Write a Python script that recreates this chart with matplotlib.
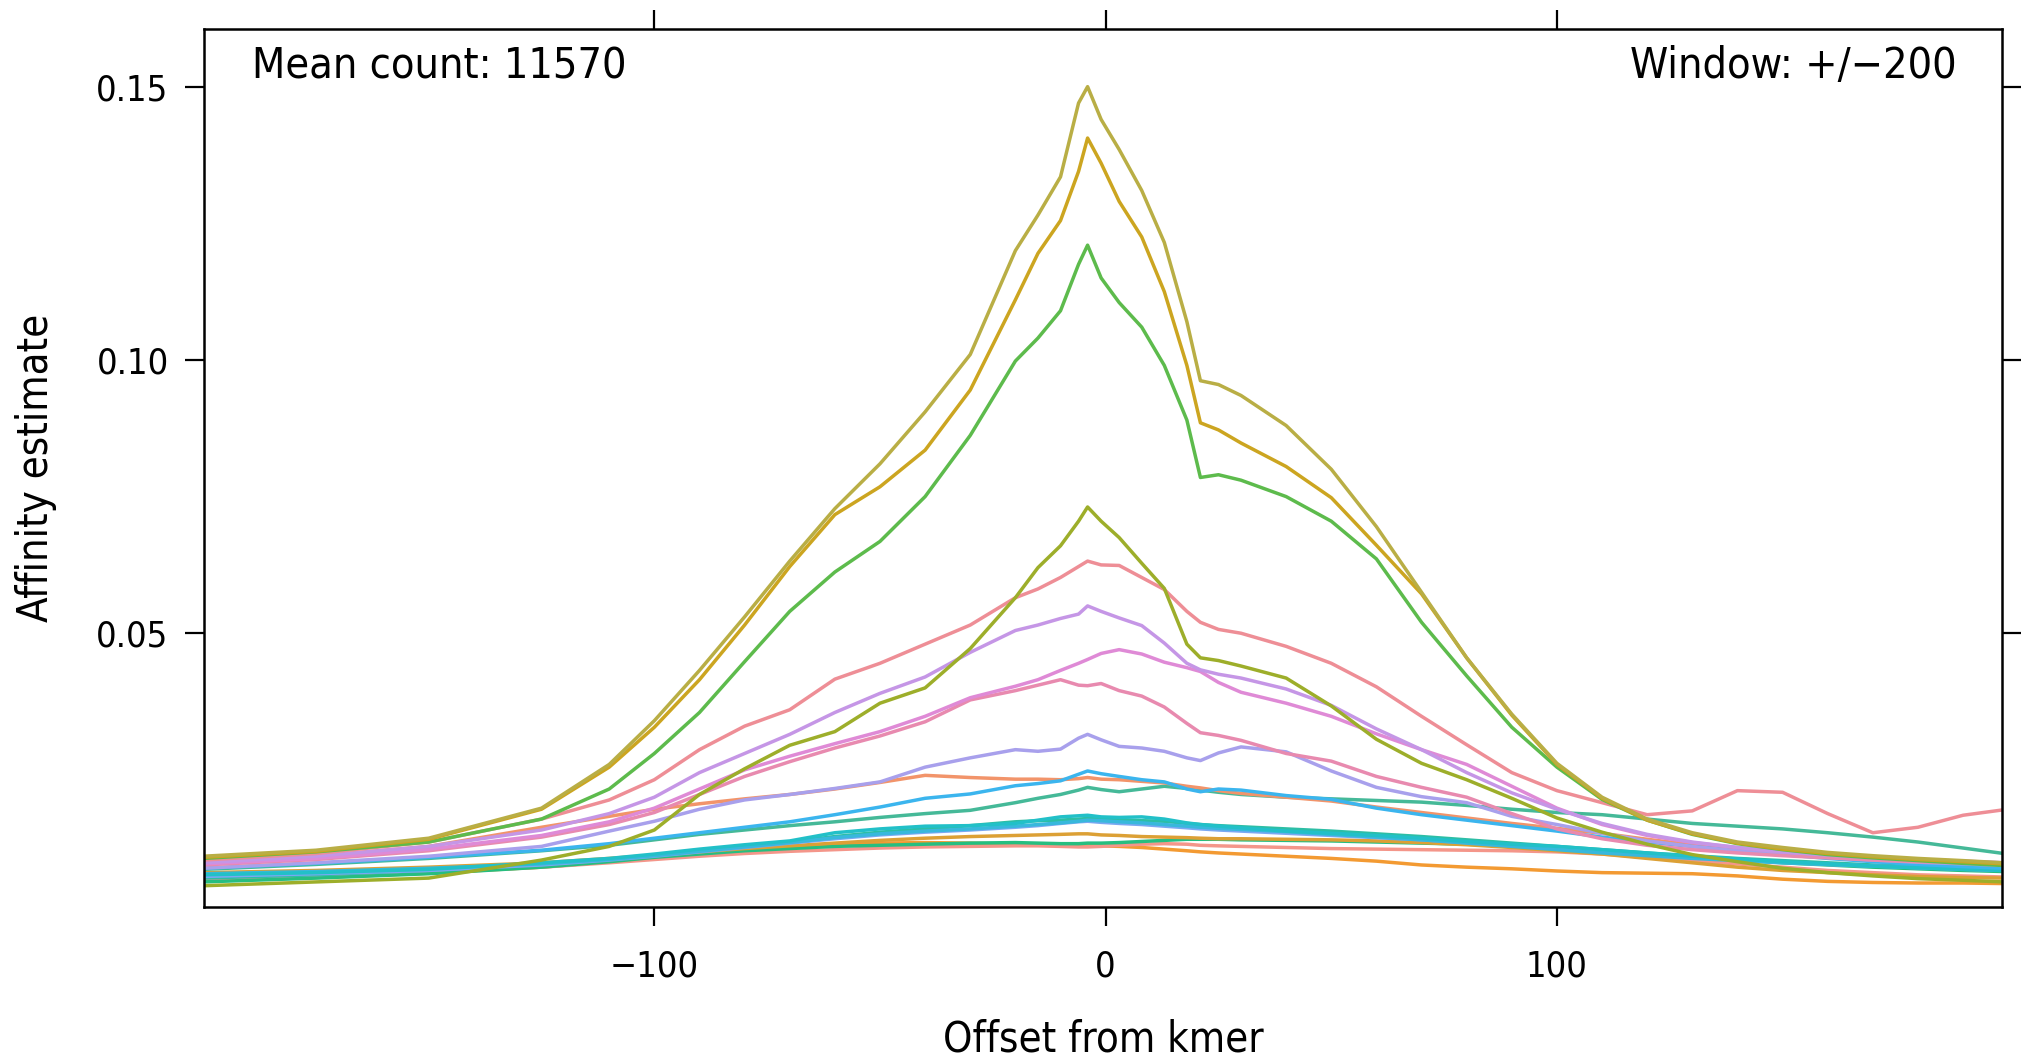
import matplotlib
matplotlib.use('Agg')

import matplotlib.pyplot as plt
from matplotlib import font_manager as fm

# offset from kmer (common grid, denser near the centre peak)
offset = [-200, -175, -150, -125, -110, -100, -90, -80, -70, -60,
          -50, -40, -30, -20, -15, -10, -6, -4, -1, 3,
          8, 13, 18, 21, 25, 30, 40, 50, 60, 70,
          80, 90, 100, 110, 120, 130, 140, 150, 160, 170,
          180, 190, 199]

# affinity estimates, one list per curve
khaki = [0.0092, 0.0103, 0.0125, 0.0180, 0.0260, 0.0340, 0.0432, 0.0530, 0.0632, 0.0728,
         0.0810, 0.0905, 0.1010, 0.1200, 0.1265, 0.1335, 0.1470, 0.1500, 0.1440, 0.1385,
         0.1310, 0.1215, 0.1070, 0.0962, 0.0955, 0.0935, 0.0880, 0.0800, 0.0695, 0.0575,
         0.0455, 0.0352, 0.0262, 0.0200, 0.0160, 0.0135, 0.0118, 0.0108, 0.0099, 0.0093,
         0.0088, 0.0084, 0.0080]
gold = [0.0090, 0.0101, 0.0123, 0.0178, 0.0255, 0.0328, 0.0415, 0.0515, 0.0622, 0.0717,
        0.0768, 0.0835, 0.0945, 0.1110, 0.1195, 0.1255, 0.1345, 0.1406, 0.1360, 0.1290,
        0.1225, 0.1125, 0.0990, 0.0885, 0.0872, 0.0848, 0.0805, 0.0748, 0.0661, 0.0572,
        0.0455, 0.0350, 0.0260, 0.0198, 0.0158, 0.0133, 0.0116, 0.0105, 0.0097, 0.0091,
        0.0086, 0.0082, 0.0078]
green = [0.0088, 0.0100, 0.0118, 0.0160, 0.0215, 0.0280, 0.0355, 0.0448, 0.0540, 0.0612,
         0.0668, 0.0750, 0.0862, 0.0998, 0.1040, 0.1090, 0.1175, 0.1210, 0.1150, 0.1105,
         0.1060, 0.0990, 0.0890, 0.0785, 0.0790, 0.0780, 0.0750, 0.0705, 0.0636, 0.0520,
         0.0422, 0.0328, 0.0255, 0.0196, 0.0158, 0.0132, 0.0115, 0.0104, 0.0095, 0.0089,
         0.0084, 0.0079, 0.0075]
olive = [0.0038, 0.0045, 0.0052, 0.0085, 0.0110, 0.0140, 0.0205, 0.0252, 0.0295, 0.0320,
         0.0372, 0.0400, 0.0472, 0.0565, 0.0620, 0.0660, 0.0705, 0.0731, 0.0705, 0.0675,
         0.0628, 0.0582, 0.0480, 0.0455, 0.0450, 0.0440, 0.0418, 0.0367, 0.0306, 0.0262,
         0.0232, 0.0198, 0.0162, 0.0136, 0.0114, 0.0095, 0.0082, 0.0070, 0.0062, 0.0056,
         0.0051, 0.0048, 0.0045]
salmon = [0.0085, 0.0097, 0.0118, 0.0160, 0.0195, 0.0232, 0.0287, 0.0330, 0.0360, 0.0416,
          0.0445, 0.0480, 0.0515, 0.0565, 0.0581, 0.0602, 0.0622, 0.0632, 0.0625, 0.0624,
          0.0602, 0.0580, 0.0540, 0.0520, 0.0507, 0.0500, 0.0476, 0.0445, 0.0402, 0.0348,
          0.0296, 0.0245, 0.0212, 0.0190, 0.0168, 0.0175, 0.0212, 0.0209, 0.0170, 0.0135,
          0.0145, 0.0167, 0.0177]
purple = [0.0080, 0.0092, 0.0110, 0.0140, 0.0170, 0.0200, 0.0245, 0.0280, 0.0315, 0.0355,
          0.0390, 0.0420, 0.0465, 0.0505, 0.0515, 0.0527, 0.0535, 0.0550, 0.0540, 0.0528,
          0.0514, 0.0482, 0.0445, 0.0433, 0.0425, 0.0418, 0.0398, 0.0368, 0.0325, 0.0287,
          0.0245, 0.0208, 0.0178, 0.0152, 0.0132, 0.0118, 0.0108, 0.0100, 0.0094, 0.0089,
          0.0085, 0.0082, 0.0080]
orchid = [0.0078, 0.0088, 0.0105, 0.0130, 0.0155, 0.0180, 0.0215, 0.0250, 0.0275, 0.0298,
          0.0320, 0.0348, 0.0382, 0.0403, 0.0415, 0.0432, 0.0445, 0.0452, 0.0463, 0.0470,
          0.0462, 0.0447, 0.0437, 0.0430, 0.0410, 0.0392, 0.0372, 0.0348, 0.0316, 0.0287,
          0.0260, 0.0220, 0.0180, 0.0150, 0.0130, 0.0117, 0.0108, 0.0100, 0.0095, 0.0090,
          0.0086, 0.0083, 0.0080]
rose = [0.0076, 0.0086, 0.0102, 0.0127, 0.0150, 0.0172, 0.0205, 0.0238, 0.0265, 0.0290,
        0.0312, 0.0338, 0.0378, 0.0395, 0.0405, 0.0415, 0.0405, 0.0404, 0.0408, 0.0395,
        0.0385, 0.0365, 0.0335, 0.0318, 0.0313, 0.0304, 0.0280, 0.0266, 0.0238, 0.0218,
        0.0200, 0.0170, 0.0142, 0.0124, 0.0112, 0.0104, 0.0098, 0.0093, 0.0089, 0.0085,
        0.0082, 0.0080, 0.0078]
periwinkle = [0.0070, 0.0080, 0.0092, 0.0110, 0.0138, 0.0156, 0.0178, 0.0195, 0.0205, 0.0216,
              0.0228, 0.0255, 0.0272, 0.0287, 0.0284, 0.0288, 0.0308, 0.0315, 0.0305, 0.0293,
              0.0290, 0.0284, 0.0272, 0.0267, 0.0281, 0.0292, 0.0283, 0.0248, 0.0218, 0.0201,
              0.0190, 0.0165, 0.0150, 0.0134, 0.0120, 0.0110, 0.0102, 0.0095, 0.0090, 0.0085,
              0.0081, 0.0078, 0.0075]
coral = [0.0082, 0.0092, 0.0110, 0.0145, 0.0165, 0.0178, 0.0188, 0.0197, 0.0205, 0.0215,
         0.0227, 0.0240, 0.0236, 0.0233, 0.0233, 0.0232, 0.0234, 0.0236, 0.0233, 0.0232,
         0.0229, 0.0226, 0.0220, 0.0217, 0.0212, 0.0207, 0.0200, 0.0193, 0.0182, 0.0172,
         0.0162, 0.0152, 0.0143, 0.0134, 0.0123, 0.0113, 0.0104, 0.0097, 0.0091, 0.0086,
         0.0082, 0.0079, 0.0076]
blue = [0.0070, 0.0079, 0.0090, 0.0103, 0.0115, 0.0125, 0.0135, 0.0145, 0.0155, 0.0168,
        0.0182, 0.0198, 0.0206, 0.0221, 0.0225, 0.0230, 0.0242, 0.0248, 0.0243, 0.0238,
        0.0232, 0.0228, 0.0215, 0.0210, 0.0215, 0.0213, 0.0203, 0.0196, 0.0180, 0.0168,
        0.0158, 0.0148, 0.0138, 0.0127, 0.0118, 0.0110, 0.0102, 0.0095, 0.0088, 0.0082,
        0.0077, 0.0073, 0.0070]
teal = [0.0068, 0.0077, 0.0088, 0.0102, 0.0112, 0.0122, 0.0132, 0.0140, 0.0148, 0.0155,
        0.0163, 0.0170, 0.0176, 0.0190, 0.0198, 0.0205, 0.0213, 0.0218, 0.0214, 0.0210,
        0.0215, 0.0220, 0.0216, 0.0213, 0.0209, 0.0205, 0.0200, 0.0197, 0.0194, 0.0191,
        0.0185, 0.0178, 0.0172, 0.0168, 0.0160, 0.0152, 0.0147, 0.0142, 0.0135, 0.0127,
        0.0118, 0.0107, 0.0097]
cyan = [0.0058, 0.0062, 0.0068, 0.0080, 0.0088, 0.0096, 0.0105, 0.0113, 0.0120, 0.0135,
        0.0142, 0.0147, 0.0148, 0.0152, 0.0158, 0.0164, 0.0166, 0.0167, 0.0164, 0.0163,
        0.0164, 0.0160, 0.0153, 0.0150, 0.0147, 0.0144, 0.0138, 0.0134, 0.0130, 0.0125,
        0.0119, 0.0114, 0.0110, 0.0104, 0.0098, 0.0092, 0.0087, 0.0082, 0.0078, 0.0074,
        0.0071, 0.0068, 0.0066]
cornflower = [0.0055, 0.0060, 0.0066, 0.0076, 0.0085, 0.0092, 0.0100, 0.0108, 0.0116, 0.0124,
              0.0131, 0.0136, 0.0140, 0.0145, 0.0148, 0.0152, 0.0155, 0.0156, 0.0154, 0.0152,
              0.0150, 0.0147, 0.0144, 0.0142, 0.0140, 0.0138, 0.0134, 0.0130, 0.0126, 0.0122,
              0.0117, 0.0112, 0.0106, 0.0100, 0.0095, 0.0090, 0.0085, 0.0081, 0.0077, 0.0074,
              0.0071, 0.0068, 0.0066]
turquoise = [0.0052, 0.0058, 0.0066, 0.0078, 0.0086, 0.0094, 0.0102, 0.0110, 0.0118, 0.0128,
             0.0136, 0.0142, 0.0148, 0.0155, 0.0157, 0.0158, 0.0160, 0.0161, 0.0160, 0.0158,
             0.0157, 0.0156, 0.0152, 0.0150, 0.0148, 0.0146, 0.0142, 0.0138, 0.0133, 0.0128,
             0.0122, 0.0116, 0.0110, 0.0104, 0.0098, 0.0093, 0.0088, 0.0084, 0.0080, 0.0076,
             0.0073, 0.0070, 0.0068]
sky = [0.0060, 0.0064, 0.0070, 0.0078, 0.0086, 0.0093, 0.0101, 0.0109, 0.0117, 0.0126,
       0.0133, 0.0138, 0.0142, 0.0147, 0.0150, 0.0153, 0.0156, 0.0158, 0.0157, 0.0155,
       0.0153, 0.0150, 0.0147, 0.0145, 0.0143, 0.0141, 0.0137, 0.0132, 0.0127, 0.0122,
       0.0116, 0.0110, 0.0104, 0.0098, 0.0093, 0.0088, 0.0084, 0.0080, 0.0077, 0.0074,
       0.0071, 0.0069, 0.0067]
amber = [0.0062, 0.0066, 0.0072, 0.0080, 0.0088, 0.0094, 0.0100, 0.0106, 0.0111, 0.0116,
         0.0121, 0.0125, 0.0128, 0.0130, 0.0131, 0.0132, 0.0133, 0.0133, 0.0131, 0.0130,
         0.0128, 0.0127, 0.0126, 0.0125, 0.0124, 0.0124, 0.0123, 0.0122, 0.0120, 0.0117,
         0.0113, 0.0108, 0.0102, 0.0096, 0.0088, 0.0080, 0.0072, 0.0066, 0.0062, 0.0058,
         0.0055, 0.0053, 0.0052]
jade = [0.0045, 0.0052, 0.0060, 0.0072, 0.0082, 0.0090, 0.0096, 0.0102, 0.0106, 0.0110,
        0.0112, 0.0114, 0.0116, 0.0117, 0.0116, 0.0115, 0.0115, 0.0116, 0.0116, 0.0117,
        0.0119, 0.0121, 0.0123, 0.0123, 0.0123, 0.0122, 0.0121, 0.0120, 0.0118, 0.0116,
        0.0114, 0.0111, 0.0108, 0.0103, 0.0097, 0.0091, 0.0085, 0.0080, 0.0076, 0.0072,
        0.0069, 0.0066, 0.0064]
peach = [0.0050, 0.0056, 0.0063, 0.0072, 0.0080, 0.0086, 0.0092, 0.0097, 0.0101, 0.0104,
         0.0107, 0.0109, 0.0110, 0.0111, 0.0111, 0.0110, 0.0109, 0.0109, 0.0110, 0.0112,
         0.0114, 0.0115, 0.0114, 0.0112, 0.0111, 0.0110, 0.0108, 0.0106, 0.0105, 0.0104,
         0.0103, 0.0102, 0.0100, 0.0096, 0.0090, 0.0084, 0.0078, 0.0072, 0.0066, 0.0062,
         0.0058, 0.0056, 0.0054]
orange = [0.0047, 0.0053, 0.0061, 0.0072, 0.0082, 0.0090, 0.0096, 0.0102, 0.0108, 0.0113,
          0.0116, 0.0117, 0.0116, 0.0114, 0.0113, 0.0112, 0.0111, 0.0111, 0.0111, 0.0110,
          0.0108, 0.0105, 0.0102, 0.0100, 0.0098, 0.0096, 0.0092, 0.0088, 0.0083, 0.0076,
          0.0072, 0.0069, 0.0065, 0.0062, 0.0061, 0.0060, 0.0056, 0.0050, 0.0046, 0.0044,
          0.0043, 0.0043, 0.0042]

series = [
    (orange, '#F39A32'), (peach, '#F4968A'), (jade, '#26BE80'), (amber, '#DCA035'),
    (turquoise, '#2DBEA5'), (cornflower, '#7AA8F2'), (sky, '#38B8DC'), (cyan, '#22C0C8'),
    (teal, '#45B998'), (coral, '#F2946A'), (blue, '#3BB5EE'), (periwinkle, '#A8A0EC'),
    (rose, '#E88AAF'), (orchid, '#DF8AD6'), (purple, '#C596E6'), (salmon, '#EE8E96'),
    (olive, '#9DAE2A'), (green, '#5DBB4C'), (gold, '#CCA520'), (khaki, '#B9AE45'),
]

# use the condensed DejaVu face when the system has it
path = fm.findfont(fm.FontProperties(family='DejaVu Sans', stretch='condensed'))
condensed = 'Condensed' in path
plt.rcParams['font.family'] = ['DejaVu Sans']
if condensed:
    plt.rcParams['font.stretch'] = 'condensed'
    tick_size, note_size, label_size = 26, 31, 30
else:
    tick_size, note_size, label_size = 22, 27, 25

fig = plt.figure(figsize=(20.24, 10.61), dpi=100)
ax = fig.add_axes([0.1010, 0.1456, 0.8883, 0.8268])

for vals, col in series:
    ax.plot(offset, vals, color=col, lw=2.5, solid_joinstyle='round')

ax.set_xlim(-199.7, 198.7)
ax.set_ylim(0.0, 0.1605)
ax.set_xticks([-100, 0, 100])
ax.set_yticks([0.05, 0.10, 0.15])
ax.set_yticklabels(['0.05', '0.10', '0.15'])

for sp in ax.spines.values():
    sp.set_linewidth(1.8)
ax.tick_params(direction='out', length=13.7, width=1.6, top=True, right=True,
               labeltop=False, labelright=False, labelsize=tick_size)
ax.tick_params(axis='x', pad=17)
ax.tick_params(axis='y', pad=12)

ax.set_xlabel('Offset from kmer', fontsize=label_size, va='center')
ax.xaxis.set_label_coords(0.5, -0.1515)
ax.set_ylabel('Affinity estimate', fontsize=label_size, va='center')
ax.yaxis.set_label_coords(-0.0934, 0.5)

ax.text(0.0267, 0.944, 'Mean count: 11570', transform=ax.transAxes,
        ha='left', va='baseline', fontsize=note_size)
ax.text(0.9747, 0.944, 'Window: +/\u2212200', transform=ax.transAxes,
        ha='right', va='baseline', fontsize=note_size)

fig.savefig('out.png', dpi=100)
